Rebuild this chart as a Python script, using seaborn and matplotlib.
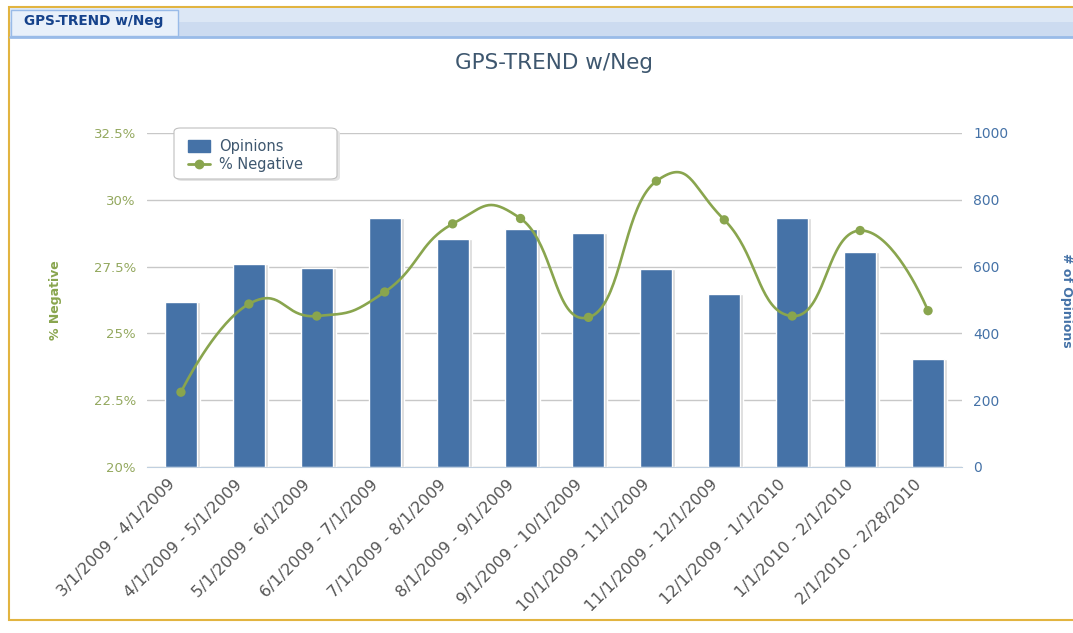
# GPS-TREND w/Neg - opinions per month (bars) and share of negative ones (spline)

import numpy as np
import pandas as pd
import matplotlib
matplotlib.use("Agg")
import matplotlib.pyplot as plt
import seaborn as sns
from matplotlib.patches import Rectangle, FancyBboxPatch, Patch
from matplotlib.lines import Line2D
from matplotlib.transforms import ScaledTranslation


# Data
periods = [
    "3/1/2009 - 4/1/2009", "4/1/2009 - 5/1/2009", "5/1/2009 - 6/1/2009",
    "6/1/2009 - 7/1/2009", "7/1/2009 - 8/1/2009", "8/1/2009 - 9/1/2009",
    "9/1/2009 - 10/1/2009", "10/1/2009 - 11/1/2009", "11/1/2009 - 12/1/2009",
    "12/1/2009 - 1/1/2010", "1/1/2010 - 2/1/2010", "2/1/2010 - 2/28/2010",
]
opinions = [495, 607, 596, 745, 684, 712, 701, 592, 517, 745, 643, 322]
pct_negative = [22.8, 26.1, 25.65, 26.55, 29.1, 29.3, 25.6, 30.7, 29.25, 25.65, 28.85, 25.85]

pct_ticks = [20, 22.5, 25, 27.5, 30, 32.5]
pct_labels = ["20%", "22.5%", "25%", "27.5%", "30%", "32.5%"]
count_ticks = [0, 200, 400, 600, 800, 1000]

df = pd.DataFrame({"period": periods, "opinions": opinions, "pct_negative": pct_negative})

BLUE = "#4572A7"
GREEN = "#89A54E"
TITLE = "#3E576F"
W, H = 1073, 633


def fx(x):
    return x / W


def fy(y):
    return 1 - y / H


def spline(xs, ys, d=0.5, n=40):
    # Bezier spline through the points, like the web chart's "spline" series
    xs = np.asarray(xs, float)
    ys = np.asarray(ys, float)
    slope = np.zeros_like(ys)
    slope[1:-1] = (ys[2:] - ys[:-2]) / (xs[2:] - xs[:-2])
    out_x, out_y = [], []
    for i in range(len(xs) - 1):
        d0 = 0 if i == 0 else d
        d1 = 0 if i == len(xs) - 2 else d
        p0 = np.array([xs[i], ys[i]])
        p3 = np.array([xs[i + 1], ys[i + 1]])
        p1 = p0 + d0 * np.array([1, slope[i]])
        p2 = p3 - d1 * np.array([1, slope[i + 1]])
        t = np.linspace(0, 1, n)[:, None]
        pts = (1 - t) ** 3 * p0 + 3 * (1 - t) ** 2 * t * p1 + 3 * (1 - t) * t ** 2 * p2 + t ** 3 * p3
        out_x.extend(pts[:, 0])
        out_y.extend(pts[:, 1])
    return np.array(out_x), np.array(out_y)


sns.set_style("white")
plt.rcParams["font.family"] = ["DejaVu Sans"]

fig = plt.figure(figsize=(W / 100, H / 100), dpi=100)

# panel frame and tab header (kept behind the axes)
fig.add_artist(Rectangle((fx(9), fy(620)), fx(1100) - fx(9), fy(7) - fy(620),
                         transform=fig.transFigure, facecolor="white", edgecolor="#E2B440",
                         lw=1.5, zorder=-5))
fig.add_artist(Rectangle((fx(10), fy(22)), 1, fy(8) - fy(22),
                         transform=fig.transFigure, facecolor="#DCE7F5", edgecolor="none", zorder=-4))
fig.add_artist(Rectangle((fx(10), fy(37)), 1, fy(22) - fy(37),
                         transform=fig.transFigure, facecolor="#CCDBF0", edgecolor="none", zorder=-4))
fig.add_artist(Rectangle((fx(11), fy(36)), fx(178) - fx(11), fy(10) - fy(36),
                         transform=fig.transFigure, facecolor="#E8F0FA", edgecolor="#99BBE8",
                         lw=1, zorder=-3))
fig.add_artist(Line2D([fx(10), 1], [fy(37), fy(37)], transform=fig.transFigure,
                      color="#99BBE8", lw=2, zorder=-3))
fig.text(fx(94), fy(21), "GPS-TREND w/Neg", fontsize=9.8, fontweight="bold",
         color="#15428B", ha="center", va="center")

fig.text(fx(554), fy(63), "GPS-TREND w/Neg", fontsize=15.5, color=TITLE, ha="center", va="center")

# bars: number of opinions (right axis)
ax = fig.add_axes([fx(147), fy(467), fx(962) - fx(147), fy(133) - fy(467)])
ax.patch.set_alpha(0)
ax.bar(np.arange(len(opinions)) + 0.045, opinions, width=0.47, color="#D9D9D9", zorder=1)
sns.barplot(data=df, x="period", y="opinions", color=BLUE, saturation=1, width=0.47,
            ax=ax, zorder=2)
ax.set_ylim(0, 1000)
ax.set_yticks(count_ticks)
ax.grid(axis="y", color="#C8C8C8", lw=1)
ax.set_axisbelow(True)
for s in ["top", "left", "right"]:
    ax.spines[s].set_visible(False)
ax.spines["bottom"].set_color("#C0D0E0")
ax.set_xlabel("")
ax.set_ylabel("")

ax.set_xticks(np.arange(len(periods)))
ax.set_xticklabels(periods, rotation=45, ha="right", rotation_mode="anchor",
                   fontsize=11.5, color="#555555")
ax.tick_params(axis="x", which="major", length=0, pad=7)
ax.set_xticks(np.arange(len(periods)) + 0.5, minor=True)
ax.tick_params(axis="x", which="minor", length=5, color="#C0D0E0", width=1)
shift = ScaledTranslation(-0.14, 0, fig.dpi_scale_trans)
for lab in ax.get_xticklabels():
    lab.set_transform(lab.get_transform() + shift)

# spline: share of negative opinions (left axis)
axl = ax.twinx()
ax.yaxis.tick_right()
ax.tick_params(axis="y", length=0, pad=8, labelsize=10, labelcolor=BLUE)
axl.yaxis.tick_left()
axl.yaxis.set_label_position("left")
cx, cy = spline(np.arange(len(pct_negative)), pct_negative)
sns.lineplot(x=cx, y=cy, color=GREEN, lw=1.9, sort=False, estimator=None, ax=axl, zorder=3)
sns.scatterplot(x=np.arange(len(pct_negative)), y=pct_negative, color=GREEN, s=45,
                edgecolor="none", ax=axl, zorder=4)
axl.set_ylim(20, 32.5)
axl.set_yticks(pct_ticks)
axl.set_yticklabels(pct_labels)
axl.tick_params(axis="y", length=0, pad=8, labelsize=9.5, labelcolor="#93A85E")
for s in axl.spines.values():
    s.set_visible(False)
axl.set_xlabel("")
axl.set_ylabel("")
ax.set_xlim(-0.5, len(periods) - 0.5)

# axis titles
fig.text(fx(56), fy(300), "% Negative", rotation=90, fontsize=9, fontweight="bold",
         color=GREEN, ha="center", va="center")
fig.text(fx(1067), fy(300), "# of Opinions", rotation=270, fontsize=9, fontweight="bold",
         color=BLUE, ha="center", va="center")

# legend with a rounded box
axl.add_artist(FancyBboxPatch((fx(176), fy(181)), fx(340) - fx(176), fy(130) - fy(181),
                              boxstyle="round,pad=0,rounding_size=0.006",
                              transform=fig.transFigure, facecolor="#E4E4E4",
                              edgecolor="none", zorder=5, clip_on=False))
axl.add_artist(FancyBboxPatch((fx(174), fy(179)), fx(337) - fx(174), fy(128) - fy(179),
                              boxstyle="round,pad=0,rounding_size=0.006",
                              transform=fig.transFigure, facecolor="white",
                              edgecolor="#C0C0C0", lw=0.8, zorder=6, clip_on=False))
handles = [Patch(facecolor=BLUE, edgecolor=BLUE),
           Line2D([], [], color=GREEN, lw=2, marker="o", ms=6)]
leg = axl.legend(handles, ["Opinions", "% Negative"], loc="upper left",
                 bbox_to_anchor=(fx(178), fy(129)), bbox_transform=fig.transFigure,
                 frameon=False, fontsize=10.5, labelcolor=TITLE, handlelength=1.5,
                 handleheight=0.9, handletextpad=0.6, borderpad=0.2, labelspacing=0.2)
leg.set_zorder(7)

fig.savefig("out.png", dpi=100)
